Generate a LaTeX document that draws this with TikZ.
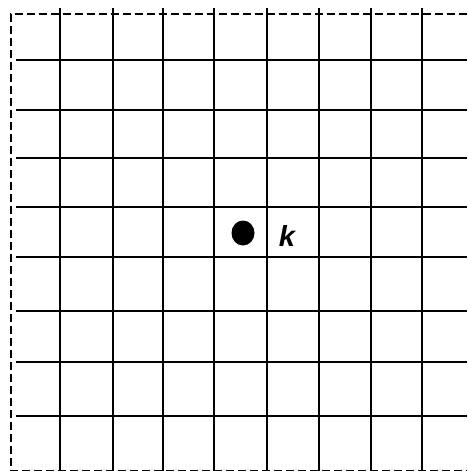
\documentclass[tikz,border=0pt]{standalone}
\usepackage{fontspec}
\setmainfont{Liberation Sans}
\usetikzlibrary{shapes.geometric}
\begin{document}
\begin{tikzpicture}[x=1pt,y=-1pt,
  gridline/.style={line width=2.2pt,black},
  border/.style={line width=2.6pt,black,dash pattern=on 8pt off 4pt}]
\useasboundingbox (0,0) rectangle (467,471);
\draw[border] (467,14) -- (11,14) -- (11,471) -- (467,471);
\foreach \x in {60,113,163,214,267,319,371,422}
  \draw[gridline] (\x,8) -- (\x,471);
\foreach \y in {60,110,158,207,257,311,362,416}
  \draw[gridline] (16,\y) -- (467,\y);
\node[fill=black,ellipse,minimum width=23pt,minimum height=25pt,inner sep=0pt] (dot) at (243,233) {};
\node[font=\fontsize{29}{34}\selectfont\bfseries\itshape,anchor=center,inner sep=0pt] (k) at (287,236) {k};
\end{tikzpicture}
\end{document}
